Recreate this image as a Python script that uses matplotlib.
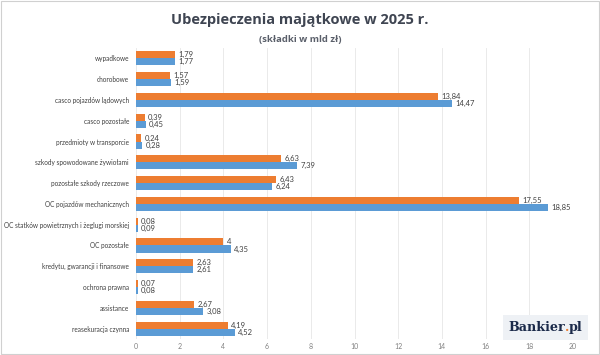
import matplotlib
matplotlib.use("Agg")
import matplotlib.pyplot as plt
from matplotlib.patches import Rectangle

categories = ["wypadkowe", "chorobowe", "casco pojazdów lądowych", "casco pozostałe",
              "przedmioty w transporcie", "szkody spowodowane żywiołami",
              "pozostałe szkody rzeczowe", "OC pojazdów mechanicznych",
              "OC statków powietrznych i żeglugi morskiej", "OC pozostałe",
              "kredytu, gwarancji i finansowe", "ochrona prawna", "assistance",
              "reasekuracja czynna"]
orange_vals = [1.79, 1.57, 13.84, 0.39, 0.24, 6.63, 6.43, 17.55, 0.08, 4, 2.63, 0.07, 2.67, 4.19]
blue_vals = [1.77, 1.59, 14.47, 0.45, 0.28, 7.39, 6.24, 18.85, 0.09, 4.35, 2.61, 0.08, 3.08, 4.52]
xticks = [0, 2, 4, 6, 8, 10, 12, 14, 16, 18, 20]

plt.rcParams['font.family'] = ['Lato', 'DejaVu Sans']

fig = plt.figure(figsize=(6, 3.55), dpi=100)
ax = fig.add_axes([136/600, 1-339/355, (573-136)/600, (339-48)/355])

orange = "#ED7D31"
blue = "#5B9BD5"
h = 0.34
n = len(categories)
ys = list(range(n))
yo = [y - h/2 for y in ys]
yb = [y + h/2 for y in ys]
ax.barh(yo, orange_vals, height=h, color=orange, zorder=3)
ax.barh(yb, blue_vals, height=h, color=blue, zorder=3)

def fmt(v):
    return ("%g" % v).replace(".", ",")

for y, v in zip(yo, orange_vals):
    ax.text(v + 0.15, y, fmt(v), va="center", ha="left", fontsize=5.5, color="#404040")
for y, v in zip(yb, blue_vals):
    ax.text(v + 0.15, y, fmt(v), va="center", ha="left", fontsize=5.5, color="#404040")

ax.set_ylim(n - 0.5, -0.5)
ax.set_xlim(0, 20)
ax.set_yticks(ys)
ax.set_yticklabels(categories, fontsize=4.7, color="#404040")
ax.set_xticks(xticks)
ax.set_xticklabels([str(t) for t in xticks], fontsize=5, color="#808080")
ax.tick_params(axis="y", length=0, pad=5)
ax.tick_params(axis="x", length=0, pad=3)
ax.grid(axis="x", color="#E6E6E6", linewidth=0.6, zorder=0)
for s in ax.spines.values():
    s.set_visible(False)

fig.text(0.5, 1-20/355, "Ubezpieczenia majątkowe w 2025 r.", ha="center", va="center",
         fontsize=10.5, fontweight="bold", family="Open Sans", color="#3F4552")
fig.text(0.5, 1-39/355, "(składki w mld zł)", ha="center", va="center",
         fontsize=6.8, fontweight="bold", family="Open Sans", color="#5A5F6A")

# logo
fig.patches.append(Rectangle((503/600, 1-340/355), 85/600, 25/355, transform=fig.transFigure,
                             facecolor="#EEF1F5", edgecolor="none", zorder=5))
ly = 1-327.5/355
t = fig.text(508/600, ly, "Bankier", ha="left", va="center", fontsize=9.2,
             fontweight="bold", family="DejaVu Serif", color="#1B2A4A", zorder=6)
fig.canvas.draw()
bb = t.get_window_extent()
t2 = fig.text(bb.x1 / fig.bbox.width, ly, ".", ha="left", va="center", fontsize=9.2,
              fontweight="bold", family="DejaVu Serif", color=orange, zorder=6)
bb2 = t2.get_window_extent()
fig.text(bb2.x1 / fig.bbox.width, ly, "pl", ha="left", va="center", fontsize=9.2,
         fontweight="bold", family="DejaVu Serif", color="#1B2A4A", zorder=6)

fig.patches.append(Rectangle((0.002, 0.003), 0.996, 0.994, transform=fig.transFigure,
                             facecolor="none", edgecolor="#D0D0D0", linewidth=0.8))

fig.savefig("out.png", dpi=100)
